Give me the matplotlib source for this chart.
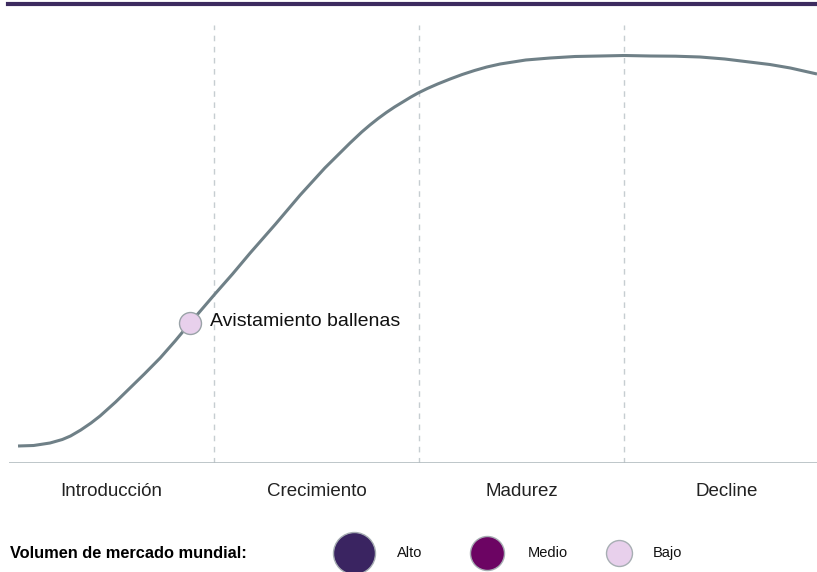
import matplotlib
matplotlib.use('Agg')
import matplotlib.pyplot as plt

plt.rcParams['font.family'] = ['Liberation Sans', 'DejaVu Sans']

# stage axis runs in stage units (0..4), y is relative market development
stages = ['Introducción', 'Crecimiento', 'Madurez', 'Decline']
curve_x = [0.044, 0.12, 0.2, 0.26, 0.3, 0.35, 0.4, 0.444, 0.52, 0.59, 0.66, 0.737, 0.81, 0.883,
           1.0, 1.09, 1.176, 1.3, 1.42, 1.54, 1.663, 1.72, 1.76, 1.80, 1.84, 1.88, 1.92, 1.96, 1.995,
           2.04, 2.09, 2.151, 2.21, 2.27, 2.33, 2.395, 2.52, 2.639, 2.76, 2.883, 3.0,
           3.127, 3.25, 3.37, 3.49, 3.61, 3.71, 3.81, 3.94]
curve_y = [17, 17.5, 20, 23.5, 27, 33, 40, 47, 61, 75, 89, 105, 122, 140,
           168, 189, 210, 239, 268, 295, 320, 331, 338, 344.5, 350.5, 356, 361, 366, 370,
           374.5, 379, 384, 388.5, 392.5, 396, 399, 403, 405, 406.5, 407, 407.5,
           407, 406.8, 406, 404, 401, 398.5, 395, 389]

product_name = 'Avistamiento ballenas'
product_x = 0.883
product_y = 140

legend_title = 'Volumen de mercado mundial:'
legend_labels = ['Alto', 'Medio', 'Bajo']
legend_colors = ['#3a2461', '#6c0463', '#e8d0ec']
legend_sizes = [914, 600, 350]

fig = plt.figure(figsize=(8.17, 5.72), dpi=100)
ax = fig.add_axes([9 / 817, 1 - 463 / 572, 808 / 817, 440 / 572])
ax.set_xlim(0, 3.94)
ax.set_ylim(0, 440)
ax.axis('off')

for b in [1, 2, 3]:
    ax.axvline(b, ymin=0, ymax=438 / 440, color='#c6cdd1', lw=1, ls=(0, (4, 4)), zorder=1)
ax.axhline(0, color='#b3bcc0', lw=1.2, zorder=2)

ax.plot(curve_x, curve_y, color='#6f8087', lw=2.2, zorder=3,
        solid_capstyle='butt', solid_joinstyle='round')
ax.scatter([product_x], [product_y], s=250, color=legend_colors[2],
           edgecolor='#9aa3a8', lw=1, zorder=4)
ax.text(product_x + 0.095, product_y + 1, product_name, fontsize=14,
        va='center', ha='left', color='#111111', zorder=5)

for i, s in enumerate(stages):
    ax.text(i + 0.5, -29, s, fontsize=13.5, ha='center', va='center', color='#222222')

# overlay in pixel coordinates for the header rule and legend
ov = fig.add_axes([0, 0, 1, 1], zorder=-1)
ov.set_xlim(0, 817)
ov.set_ylim(572, 0)
ov.axis('off')
ov.plot([8, 817], [4, 4], color='#3d2b5f', lw=3)

ov.text(10, 553, legend_title, fontsize=11.8, fontweight='bold', va='center', ha='left')
leg_x = [354, 487, 619]
lab_x = [397, 528, 653]
for x, lx, lab, c, s in zip(leg_x, lab_x, legend_labels, legend_colors, legend_sizes):
    ov.scatter([x], [553], s=s, color=c, edgecolor='#a7aeb3', lw=1, clip_on=False)
    ov.text(lx, 553, lab, fontsize=10.5, va='center', ha='left', color='#111111')

fig.savefig('out.png', dpi=100)
